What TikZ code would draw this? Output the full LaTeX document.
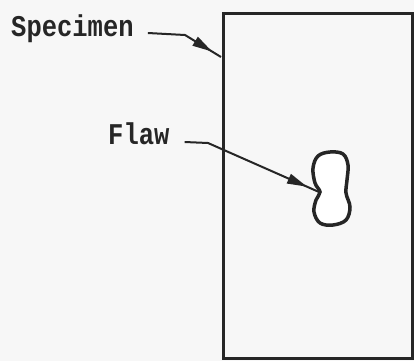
\documentclass[tikz,border=0pt]{standalone}
\usepackage{fontspec}
\newfontfamily\typewriter{Liberation Mono}
\usetikzlibrary{decorations.markings,arrows.meta}
\begin{document}
\begin{tikzpicture}[x=1pt,y=-1pt,
  ink/.style={draw=black!85},
  lbl/.style={inner sep=0pt, anchor=base west, text=black!85, font=\typewriter\bfseries\fontsize{25.5}{28}\selectfont},
  leader/.style={ink, line width=2pt, postaction={decorate},
    decoration={markings, mark=at position #1 with {\arrow{Triangle[length=20pt,width=10pt]}}}}
]
\fill[black!3] (0,0) rectangle (414,361);
\useasboundingbox (0,0) rectangle (414,361);
% specimen
\node[ink, line width=3pt, minimum width=189pt, minimum height=345pt, anchor=north west, inner sep=0pt] (box) at (222,12) {};
% flaw outline
\draw[ink, line width=3.5pt, fill=white] plot[smooth cycle, tension=0.6] coordinates {
  (330,152) (343,154) (348,165) (347,180) (346,193) (350,207) (346,220) (333,225)
  (320,223) (314,212) (316,200) (320,192) (315,183) (313,168) (318,156)};
\coordinate (flawL) at (319,192);
\coordinate (boxL) at (221,57);
% labels
\node[lbl] (spec) at (11,37) {\scalebox{1}[1.18]{Specimen}};
\node[lbl] (flaw) at (108,144) {\scalebox{1}[1.18]{Flaw}};
\coordinate (sBend) at (185,35);
\coordinate (fBend) at (208,143);
\draw[leader=0.87] ([xshift=14pt,yshift=4pt]spec.base east) -- (sBend) -- (boxL);
\draw[leader=0.91] ([xshift=15pt,yshift=2pt]flaw.base east) -- (fBend) -- (flawL);
\end{tikzpicture}
\end{document}
